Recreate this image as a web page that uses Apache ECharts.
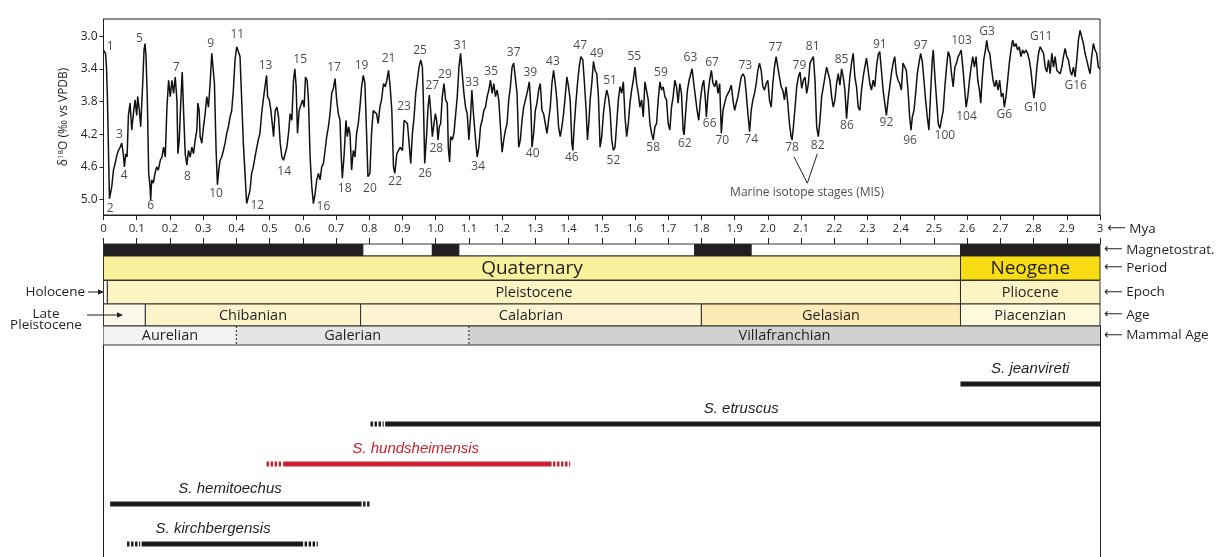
<!DOCTYPE html>
<html><head><meta charset="utf-8">
<script src="https://cdn.jsdelivr.net/npm/echarts@6/dist/echarts.min.js"></script>
<style>html,body{margin:0;padding:0;background:#fff}#c{width:1216px;height:557px}</style>
</head><body><div id="c"></div>
<script>
// ---------- DATA ----------
// benthic δ18O stack: [age (Mya), δ18O ‰]
const d18O = [
[0.000,3.17],[0.002,3.16],[0.006,3.21],[0.009,3.38],[0.012,3.78],[0.015,4.40],[0.018,4.99],[0.021,4.97],[0.025,4.84],[0.030,4.64],[0.035,4.56],[0.040,4.46],[0.045,4.40],[0.050,4.36],[0.055,4.31],[0.060,4.46],[0.063,4.60],[0.067,4.44],[0.071,4.48],[0.075,3.97],[0.080,3.82],[0.085,4.15],[0.090,3.95],[0.095,3.78],[0.100,3.97],[0.103,3.74],[0.108,3.91],[0.112,4.11],[0.118,3.58],[0.122,3.17],[0.125,3.09],[0.128,3.25],[0.132,3.78],[0.136,4.68],[0.140,4.84],[0.142,5.01],[0.145,4.76],[0.150,4.80],[0.155,4.68],[0.160,4.60],[0.165,4.64],[0.171,4.52],[0.176,4.48],[0.181,4.36],[0.186,4.48],[0.191,3.87],[0.196,3.54],[0.201,3.74],[0.206,3.54],[0.211,3.70],[0.216,3.50],[0.221,3.78],[0.224,4.44],[0.228,4.27],[0.232,3.87],[0.237,3.44],[0.241,3.91],[0.246,4.44],[0.251,4.58],[0.256,4.40],[0.261,4.48],[0.266,4.36],[0.271,4.44],[0.276,4.27],[0.281,4.15],[0.284,3.82],[0.288,3.91],[0.291,4.23],[0.296,4.31],[0.301,4.11],[0.306,3.95],[0.311,3.74],[0.316,3.87],[0.321,3.58],[0.326,3.21],[0.329,3.19],[0.334,3.58],[0.339,4.40],[0.343,4.82],[0.347,4.64],[0.351,4.52],[0.356,4.48],[0.361,4.40],[0.366,4.31],[0.371,4.19],[0.376,4.11],[0.381,3.99],[0.386,3.91],[0.391,3.66],[0.396,3.29],[0.401,3.13],[0.406,3.13],[0.411,3.25],[0.416,3.78],[0.421,4.31],[0.426,4.68],[0.431,5.05],[0.436,5.07],[0.441,4.89],[0.446,4.68],[0.451,4.60],[0.456,4.48],[0.461,4.48],[0.466,4.27],[0.471,4.19],[0.476,3.95],[0.481,3.78],[0.486,3.62],[0.491,3.48],[0.494,3.74],[0.499,3.78],[0.504,3.91],[0.508,4.07],[0.512,4.23],[0.517,3.91],[0.522,3.87],[0.527,3.99],[0.532,4.31],[0.537,4.48],[0.542,4.52],[0.547,4.44],[0.552,4.36],[0.557,4.19],[0.562,3.95],[0.567,4.03],[0.572,3.54],[0.576,3.40],[0.580,3.62],[0.584,4.19],[0.589,3.91],[0.594,3.91],[0.599,3.78],[0.604,3.87],[0.608,3.50],[0.613,3.54],[0.617,3.78],[0.622,4.48],[0.627,4.84],[0.632,5.05],[0.637,4.93],[0.642,4.76],[0.647,4.68],[0.652,4.76],[0.657,4.60],[0.662,4.56],[0.667,4.40],[0.672,4.23],[0.677,4.11],[0.682,3.95],[0.687,3.70],[0.692,3.64],[0.697,3.52],[0.702,3.78],[0.707,3.95],[0.712,4.03],[0.715,4.40],[0.719,4.74],[0.724,4.48],[0.730,4.03],[0.734,4.23],[0.738,4.11],[0.742,4.19],[0.747,4.64],[0.752,4.40],[0.757,4.48],[0.762,4.19],[0.767,4.07],[0.772,3.87],[0.777,3.62],[0.782,3.48],[0.787,3.58],[0.792,4.19],[0.796,4.72],[0.802,4.68],[0.807,4.19],[0.812,3.91],[0.817,3.91],[0.822,3.95],[0.827,4.07],[0.832,3.87],[0.837,3.78],[0.843,3.58],[0.848,3.62],[0.853,3.54],[0.858,3.42],[0.863,3.62],[0.868,3.91],[0.873,4.60],[0.877,4.68],[0.883,4.44],[0.888,4.40],[0.893,4.36],
[0.900,4.40],[0.905,4.03],[0.910,4.01],[0.915,4.07],[0.920,4.31],[0.925,4.56],[0.930,4.19],[0.935,3.99],[0.940,3.70],[0.945,3.54],[0.950,3.38],[0.955,3.29],[0.960,3.38],[0.963,3.78],[0.967,4.56],[0.969,4.58],[0.973,4.19],[0.977,3.87],[0.981,3.72],[0.985,3.91],[0.990,4.23],[0.995,4.07],[0.999,3.95],[1.003,4.03],[1.007,4.27],[1.011,4.11],[1.015,4.07],[1.020,3.74],[1.025,3.58],[1.030,3.78],[1.035,3.82],[1.038,4.36],[1.042,4.54],[1.045,4.23],[1.050,4.27],[1.055,4.19],[1.060,4.19],[1.065,3.74],[1.070,3.38],[1.075,3.21],[1.080,3.46],[1.085,3.70],[1.090,3.87],[1.095,3.95],[1.100,4.27],[1.105,3.99],[1.109,3.66],[1.113,3.91],[1.117,4.11],[1.121,4.31],[1.125,4.48],[1.130,4.36],[1.135,4.11],[1.140,4.03],[1.145,3.91],[1.150,3.87],[1.155,3.74],[1.160,3.66],[1.165,3.54],[1.170,3.70],[1.175,3.58],[1.180,3.74],[1.185,3.66],[1.190,3.78],[1.195,4.11],[1.200,4.42],[1.205,4.27],[1.210,4.15],[1.215,4.07],[1.220,3.78],[1.225,3.62],[1.230,3.38],[1.235,3.33],[1.240,3.33],[1.245,3.70],[1.250,4.36],[1.255,4.27],[1.260,4.03],[1.265,3.87],[1.270,3.87],[1.275,3.70],[1.282,3.56],[1.287,3.91],[1.290,4.36],[1.295,4.19],[1.300,3.91],[1.305,3.82],[1.310,3.66],[1.315,3.58],[1.320,3.91],[1.325,3.95],[1.330,4.07],[1.335,4.19],[1.340,4.19],[1.345,3.87],[1.350,3.58],[1.355,3.42],[1.360,3.58],[1.365,3.78],[1.370,4.11],[1.375,4.23],[1.380,4.11],[1.385,3.95],[1.390,3.74],[1.395,3.50],[1.400,3.62],[1.405,3.78],[1.410,4.31],[1.413,4.40],[1.417,4.11],[1.422,3.82],[1.427,3.58],[1.432,3.38],[1.437,3.25],[1.443,3.29],[1.448,3.58],[1.453,3.91],[1.457,4.27],[1.461,4.07],[1.465,3.78],[1.470,3.58],[1.475,3.31],[1.480,3.42],[1.485,3.46],[1.490,3.74],[1.495,4.36],[1.500,4.23],[1.505,3.95],[1.510,3.78],[1.515,3.66],[1.520,3.74],[1.525,3.91],[1.530,4.27],[1.535,4.40],[1.540,4.36],[1.545,4.07],[1.550,3.78],[1.555,3.62],[1.560,3.70],[1.565,3.56],[1.570,3.99],[1.575,4.23],[1.580,4.07],[1.585,3.82],[1.590,3.66],[1.595,3.54],[1.600,3.38],[1.605,3.58],[1.610,3.70],[1.615,3.87],[1.620,3.78],[1.625,3.99],[1.630,3.56],[1.635,3.58],[1.640,3.78],[1.645,4.07],[1.650,4.19],[1.655,4.27],[1.660,4.11],[1.665,4.07],[1.670,3.78],[1.675,3.56],[1.680,3.66],[1.685,3.62],[1.690,3.74],[1.695,3.78],[1.700,4.07],[1.705,4.15],[1.710,3.87],[1.715,3.74],[1.720,3.54],[1.725,3.62],[1.730,3.82],[1.735,3.58],[1.740,3.70],[1.745,4.15],[1.748,4.21],[1.753,3.91],[1.758,3.66],[1.763,3.54],[1.768,3.46],[1.772,3.40],[1.777,3.58],[1.782,3.74],[1.787,3.91],[1.792,4.03],[1.797,3.78],[1.802,3.62],[1.807,3.54],[1.812,3.78],[1.815,3.99],[1.820,3.70],[1.825,3.54],[1.830,3.42],[1.835,3.58],[1.840,3.62],[1.845,3.54],[1.850,3.70],[1.855,3.58],[1.860,4.19],[1.865,3.91],[1.870,3.82],[1.875,3.74],[1.880,3.70],[1.885,3.66],[1.890,3.60],[1.895,3.78],[1.900,3.91],[1.905,3.82],[1.910,3.74],[1.915,3.62],[1.920,3.50],[1.925,3.46],[1.930,3.50],[1.935,3.70],[1.940,3.95],[1.945,4.17],[1.950,3.91],[1.955,3.78],[1.960,3.70],[1.965,3.58],[1.970,3.42],[1.975,3.33],[1.980,3.42],[1.985,3.62],[1.990,3.66],[1.995,3.58],[2.000,3.54],[2.005,3.78],[2.010,3.87],[2.015,3.58],[2.020,3.38],[2.025,3.25],[2.030,3.38],[2.035,3.50],[2.040,3.62],[2.045,3.66],[2.050,3.78],[2.055,3.62],[2.060,3.82],[2.065,4.07],[2.070,4.23],[2.073,4.27],[2.077,4.11],[2.082,3.87],[2.087,3.62],[2.092,3.50],[2.097,3.44],[2.102,3.64],[2.107,3.54],[2.112,3.50],[2.117,3.70],[2.122,3.58],[2.127,3.33],[2.132,3.29],[2.137,3.25],[2.142,3.54],[2.147,4.11],
[2.152,4.23],[2.157,4.03],[2.162,3.74],[2.167,3.62],[2.172,3.50],[2.177,3.38],[2.182,3.40],[2.187,3.54],[2.192,3.74],[2.197,3.87],[2.202,3.78],[2.207,3.58],[2.212,3.46],[2.217,3.60],[2.222,3.40],[2.227,3.50],[2.232,3.66],[2.237,4.01],[2.242,3.74],[2.247,3.50],[2.252,3.33],[2.257,3.21],[2.262,3.50],[2.267,3.62],[2.272,3.87],[2.277,3.91],[2.282,3.66],[2.287,3.50],[2.292,3.38],[2.297,3.27],[2.302,3.42],[2.307,3.58],[2.312,3.66],[2.317,3.54],[2.322,3.62],[2.327,3.38],[2.332,3.23],[2.337,3.19],[2.342,3.42],[2.347,3.66],[2.352,3.82],[2.357,3.97],[2.362,3.78],[2.367,3.62],[2.372,3.46],[2.377,3.33],[2.382,3.25],[2.387,3.46],[2.392,3.54],[2.397,3.58],[2.402,3.66],[2.407,3.33],[2.412,3.33],[2.417,3.42],[2.422,3.66],[2.427,3.99],[2.431,4.15],[2.435,3.99],[2.440,3.91],[2.445,3.70],[2.450,3.46],[2.455,3.33],[2.460,3.21],[2.465,3.31],[2.470,3.54],[2.475,3.78],[2.480,3.99],[2.485,4.15],[2.490,3.70],[2.495,3.29],[2.498,3.17],[2.503,3.50],[2.508,3.78],[2.513,4.07],[2.518,4.13],[2.523,4.11],[2.528,3.91],[2.533,3.62],[2.538,3.38],[2.543,3.19],[2.548,3.25],[2.553,3.46],[2.558,3.62],[2.563,3.38],[2.568,3.33],[2.573,3.25],[2.578,3.21],[2.582,3.17],[2.587,3.38],[2.592,3.62],[2.597,3.87],[2.602,3.74],[2.607,3.54],[2.612,3.38],[2.617,3.25],[2.622,3.38],[2.627,3.25],[2.632,3.54],[2.637,3.66],[2.641,3.82],[2.645,3.54],[2.650,3.29],[2.655,3.17],[2.659,3.05],[2.663,3.17],[2.668,3.21],[2.673,3.38],[2.678,3.54],[2.683,3.62],[2.688,3.54],[2.693,3.66],[2.698,3.54],[2.703,3.74],[2.708,3.70],[2.712,3.87],[2.717,3.74],[2.722,3.54],[2.727,3.33],[2.732,3.17],[2.737,3.05],[2.742,3.13],[2.747,3.09],[2.752,3.17],[2.757,3.13],[2.762,3.25],[2.767,3.17],[2.772,3.21],[2.777,3.17],[2.782,3.21],[2.787,3.29],[2.792,3.42],[2.797,3.62],[2.801,3.76],[2.805,3.62],[2.810,3.38],[2.815,3.21],[2.820,3.13],[2.825,3.11],[2.830,3.21],[2.835,3.38],[2.840,3.44],[2.845,3.29],[2.850,3.46],[2.855,3.21],[2.860,3.38],[2.865,3.25],[2.870,3.42],[2.875,3.42],[2.880,3.46],[2.885,3.38],[2.890,3.25],[2.895,3.15],[2.900,3.25],[2.905,3.29],[2.910,3.42],[2.915,3.48],[2.920,3.38],[2.925,3.50],[2.930,3.29],[2.935,3.05],[2.940,2.93],[2.945,2.93],[2.950,3.09],[2.955,3.21],[2.960,3.29],[2.965,3.38],[2.970,3.46],[2.975,3.25],[2.980,3.09],[2.985,3.17],[2.990,3.21],[2.995,3.38],[3.000,3.40]
];
// Marine isotope stage labels: [label, age, δ18O at label]
const misLabels = [
["1",0.020,3.13],["2",0.020,5.11],["3",0.048,4.21],["4",0.062,4.71],["5",0.108,3.03],["6",0.142,5.07],["7",0.219,3.38],["8",0.253,4.72],["9",0.323,3.09],["10",0.339,4.93],["11",0.403,2.98],["12",0.463,5.07],["13",0.488,3.36],["14",0.544,4.66],["15",0.592,3.29],["16",0.662,5.09],["17",0.694,3.38],["18",0.726,4.87],["19",0.777,3.36],["20",0.802,4.87],["21",0.858,3.27],["22",0.878,4.78],["23",0.905,3.86],
["25",0.953,3.18],["26",0.968,4.68],["27",0.990,3.61],["28",1.002,4.38],["29",1.028,3.47],["31",1.075,3.11],["33",1.110,3.57],["34",1.128,4.60],["35",1.167,3.43],["37",1.235,3.20],["39",1.285,3.44],["40",1.292,4.44],["43",1.353,3.31],["46",1.410,4.49],["47",1.435,3.11],["49",1.485,3.21],["51",1.525,3.55],["52",1.535,4.52],["55",1.598,3.25],["58",1.655,4.37],["59",1.678,3.44],["62",1.750,4.31],["63",1.767,3.26],["66",1.825,4.07],["67",1.832,3.32],["70",1.863,4.28],["73",1.932,3.36],["74",1.950,4.27],["77",2.023,3.14],["78",2.073,4.37],["79",2.095,3.36],["81",2.135,3.13],
["82",2.150,4.34],["85",2.222,3.29],["86",2.238,4.10],["91",2.337,3.10],["92",2.357,4.06],["96",2.428,4.28],["97",2.460,3.12],["100",2.533,4.22],["103",2.583,3.06],["104",2.598,3.99],["G3",2.660,2.94],["G6",2.712,3.96],["G10",2.805,3.87],["G11",2.823,3.00],["G16",2.927,3.61]
];
const misNote = ["Marine isotope stages (MIS)", 2.118, 4.92];
const misArrows = [[[2.119,4.80],[2.079,4.48]],[[2.119,4.80],[2.149,4.44]]];
const d18OTicks = [3.0,3.4,3.8,4.2,4.6,5.0];
// time scale rows: [name, start Mya, end Mya]
const magnetostrat = [["normal",0,0.781],["reversed",0.781,0.99],["normal",0.99,1.07],["reversed",1.07,1.78],["normal",1.78,1.95],["reversed",1.95,2.58],["normal",2.58,3.0]];
const periods = [["Quaternary",0,2.58],["Neogene",2.58,3.0]];
const epochs = [["Holocene",0,0.0117],["Pleistocene",0.0117,2.58],["Pliocene",2.58,3.0]];
const stages = [["Late Pleistocene",0,0.126],["Chibanian",0.126,0.774],["Calabrian",0.774,1.80],["Gelasian",1.80,2.58],["Piacenzian",2.58,3.0]];
const mammalAges = [["Aurelian",0,0.4],["Galerian",0.4,1.1],["Villafranchian",1.1,3.0]];
const rowNames = ["Magnetostrat.","Period","Epoch","Age","Mammal Age"];
// species ranges: [name, uncertain start, certain start, certain end, uncertain end]
const species = [
["S. jeanvireti",2.58,2.58,3.0,3.0],
["S. etruscus",0.804,0.848,3.0,3.0],
["S. hundsheimensis",0.491,0.541,1.349,1.405],
["S. hemitoechus",0.02,0.02,0.777,0.805],
["S. kirchbergensis",0.071,0.115,0.601,0.645]
];
const speciesLabelAge = [2.79,1.92,0.94,0.381,0.33];

// ---------- STYLE ----------
const FONT = "'Open Sans', sans-serif";
const INK = '#231f20';
const fills = {normal:'#231f20', reversed:'#ffffff', Quaternary:'#f8f19c', Neogene:'#f7dc14', Holocene:'#fdf8ee', Pleistocene:'#fcf5c3', Pliocene:'#fcf4c2', 'Late Pleistocene':'#fbf8ea', Chibanian:'#fcf3ca', Calabrian:'#fdf4d1', Gelasian:'#fbeab4', Piacenzian:'#fdf9da', Aurelian:'#f2f2f2', Galerian:'#e5e5e5', Villafranchian:'#d1d1d2'};
const speciesColor = {"S. hundsheimensis":'#c8202e'};
const L = 103.5, R = 116;
const bandRows = [ // top, height
  {top:244,h:12},{top:256,h:24},{top:280.5,h:23.5},{top:304,h:22},{top:326,h:19}
];
const ARROW = '⟵';

const chart = echarts.init(document.getElementById('c'), null, {renderer:'canvas'});

function bandSeries(gi, rows, opt){
  return {
    type:'custom', xAxisIndex:gi, yAxisIndex:gi, silent:true, clip:false,
    data: rows.map(r=>[r[1],r[2],0]), encode:{x:[0,1],y:2},
    renderItem:(params, api)=>{
      const r = rows[params.dataIndex];
      const p0 = api.coord([api.value(0),0]), p1 = api.coord([api.value(1),0]);
      const h = api.size([0,1])[1], y0 = p0[1]-h/2, w = p1[0]-p0[0];
      const ch = [{type:'rect', shape:{x:p0[0],y:y0,width:w,height:h}, style:{fill:fills[r[0]], stroke: opt.mammal?null:INK, lineWidth:0.9}}];
      if (opt.mammal){
        ch.push({type:'line', shape:{x1:p0[0],y1:y0,x2:p1[0],y2:y0}, style:{stroke:INK,lineWidth:0.9}});
        ch.push({type:'line', shape:{x1:p0[0],y1:y0+h,x2:p1[0],y2:y0+h}, style:{stroke:INK,lineWidth:0.9}});
        if (api.value(0)>0) ch.push({type:'line', shape:{x1:p0[0],y1:y0,x2:p0[0],y2:y0+h}, style:{stroke:INK,lineWidth:1,lineDash:[2,2]}});
      }
      if (opt.fontSize && w>60) ch.push({type:'text', style:{text:r[0], x:(p0[0]+p1[0])/2, y:y0+h/2+0.5, align:'center', verticalAlign:'middle', fontSize:opt.fontSize, fontFamily:FONT, fill:INK}});
      return {type:'group', children:ch};
    }
  };
}

const hiddenX = gi => ({type:'value', gridIndex:gi, min:0, max:3, show:false});
const arrowRich = {a:{fontFamily:'DejaVu Sans', fontSize:13, color:INK}};
const rightRowAxis = (gi, name) => ({type:'category', gridIndex:gi, data:[name], position:'right',
  axisLine:{show:false}, axisTick:{show:false}, splitLine:{show:false},
  axisLabel:{margin:4, color:INK, fontSize:13.5, fontFamily:FONT, formatter:v=>'{a|'+ARROW+'} '+v, rich:arrowRich}});

const grids = [{left:L, right:R, top:19, height:196, show:true, borderColor:INK, borderWidth:1, outerBoundsMode:'none'}];
bandRows.forEach(b=>grids.push({left:L, right:R, top:b.top, height:b.h, outerBoundsMode:'none'}));
grids.push({left:L, right:R, top:364, height:200, outerBoundsMode:'none'}); // species
grids.push({left:L, right:R, top:326, height:240, outerBoundsMode:'none'}); // frame

const fmtMya = v => (v===0?'0':(Math.abs(v-3)<1e-6?'3':v.toFixed(1)));

const option = {
  animation:false, backgroundColor:'#fff',
  grid: grids,
  xAxis: [
    {type:'value', gridIndex:0, min:0, max:3, interval:0.1, position:'bottom',
     axisLine:{show:true, lineStyle:{color:INK, width:1}}, axisTick:{show:true, length:5, lineStyle:{color:INK}},
     splitLine:{show:false}, axisLabel:{margin:8, color:INK, fontSize:11.5, fontFamily:FONT, formatter:fmtMya, showMinLabel:true, showMaxLabel:true},
     name:'{a|'+ARROW+'} Mya', nameLocation:'end', nameGap:2,
     nameTextStyle:{color:INK, fontSize:13.5, fontFamily:FONT, padding:[28,0,0,0], rich:arrowRich}},
    {type:'value', gridIndex:1, min:0, max:3, interval:0.1, position:'top',
     axisLine:{show:false}, axisTick:{show:true, length:6, lineStyle:{color:INK}}, axisLabel:{show:false}, splitLine:{show:false}},
    hiddenX(2), hiddenX(3), hiddenX(4), hiddenX(5), hiddenX(6), hiddenX(7)
  ],
  yAxis: [
    {type:'value', gridIndex:0, inverse:true, min:2.79, max:5.19,
     axisLine:{show:true, lineStyle:{color:INK}}, splitLine:{show:false},
     axisTick:{show:true, length:4, lineStyle:{color:INK}, customValues:d18OTicks},
     axisLabel:{margin:6, color:INK, fontSize:12, fontFamily:FONT, customValues:d18OTicks, formatter:v=>v.toFixed(1)},
     name:'{d|δ}{s|18}{d|O (‰ vs VPDB)}', nameLocation:'middle', nameGap:33, nameRotate:90,
     nameTextStyle:{color:INK, rich:{d:{fontSize:12, fontFamily:FONT, color:INK, lineHeight:14}, s:{fontSize:8, fontFamily:FONT, color:INK, verticalAlign:'top', lineHeight:14}}}},
    rightRowAxis(1,rowNames[0]), rightRowAxis(2,rowNames[1]), rightRowAxis(3,rowNames[2]), rightRowAxis(4,rowNames[3]), rightRowAxis(5,rowNames[4]),
    {type:'category', gridIndex:6, inverse:true, data:species.map(s=>s[0]), show:false},
    {type:'value', gridIndex:7, min:0, max:1, position:'left', axisLine:{show:true, lineStyle:{color:INK}}, axisTick:{show:false}, axisLabel:{show:false}, splitLine:{show:false}},
    {type:'value', gridIndex:7, min:0, max:1, position:'right', axisLine:{show:true, lineStyle:{color:INK}}, axisTick:{show:false}, axisLabel:{show:false}, splitLine:{show:false}}
  ],
  series: [
    {type:'line', xAxisIndex:0, yAxisIndex:0, data:d18O, showSymbol:false, symbol:'none', silent:true,
     lineStyle:{color:'#111', width:1.5}, z:3,
     markLine:{silent:true, symbol:['none','arrow'], symbolSize:[0,7], animation:false,
       lineStyle:{color:INK, width:1, type:'solid'}, label:{show:false},
       data: misArrows.map(a=>[{coord:a[0]},{coord:a[1]}])}},
    {type:'scatter', xAxisIndex:0, yAxisIndex:0, silent:true, symbolSize:0.1, itemStyle:{color:'transparent'},
     data: misLabels.map(m=>[m[1],m[2],m[0]]).concat([[misNote[1],misNote[2],misNote[0]]]),
     label:{show:true, position:'inside', color:'#1a1a1a', fontSize:12, fontFamily:FONT, formatter:p=>p.data[2]}, z:4},
    bandSeries(1, magnetostrat, {}),
    bandSeries(2, periods, {fontSize:19}),
    bandSeries(3, epochs, {fontSize:14.5}),
    bandSeries(4, stages, {fontSize:14.5}),
    bandSeries(5, mammalAges, {fontSize:14.5, mammal:true}),
    {type:'custom', xAxisIndex:6, yAxisIndex:6, silent:true, clip:false,
     data: species.map((s,i)=>[s[1],s[4],i]), encode:{x:[0,1],y:2},
     renderItem:(params, api)=>{
       const i = params.dataIndex, s = species[i];
       const col = speciesColor[s[0]] || '#1a1a1a';
       const tcol = speciesColor[s[0]] || INK;
       const X = a => api.coord([a,i])[0];
       const cy = api.coord([0,i])[1];
       const ch = [];
       const dash = {stroke:col, lineWidth:5, lineDash:[2.4,1.6], lineCap:'butt'};
       if (s[2]>s[1]) ch.push({type:'line', shape:{x1:X(s[1]),y1:cy,x2:X(s[2])-1.5,y2:cy}, style:dash});
       ch.push({type:'line', shape:{x1:X(s[2]),y1:cy,x2:X(s[3]),y2:cy}, style:{stroke:col, lineWidth:5, lineCap:'butt'}});
       if (s[4]>s[3]) ch.push({type:'line', shape:{x1:X(s[3])+1.5,y1:cy,x2:X(s[4]),y2:cy}, style:dash});
       ch.push({type:'text', style:{text:s[0], x:X(speciesLabelAge[i]), y:cy-15, align:'center', verticalAlign:'middle', fontSize:15, fontStyle:'italic', fontFamily:"'Liberation Sans', Arial, sans-serif", fill:tcol}});
       return {type:'group', children:ch};
     }}
  ],
  graphic: [
    {type:'text', z:100, style:{text:'Holocene', x:85, y:292, align:'right', verticalAlign:'middle', fontSize:13.5, fontFamily:FONT, fill:INK}},
    {type:'line', z:100, shape:{x1:88,y1:292,x2:99,y2:292}, style:{stroke:INK, lineWidth:1}},
    {type:'polygon', z:100, shape:{points:[[104,292],[98,289.3],[98,294.7]]}, style:{fill:INK}},
    {type:'text', z:100, style:{text:'Late\nPleistocene', x:46, y:319.5, align:'center', verticalAlign:'middle', fontSize:13.5, lineHeight:11.5, fontFamily:FONT, fill:INK}},
    {type:'line', z:100, shape:{x1:87,y1:315,x2:118,y2:315}, style:{stroke:INK, lineWidth:1}},
    {type:'polygon', z:100, shape:{points:[[123,315],[117,312.3],[117,317.7]]}, style:{fill:INK}}
  ]
};
chart.setOption(option);
</script></body></html>
